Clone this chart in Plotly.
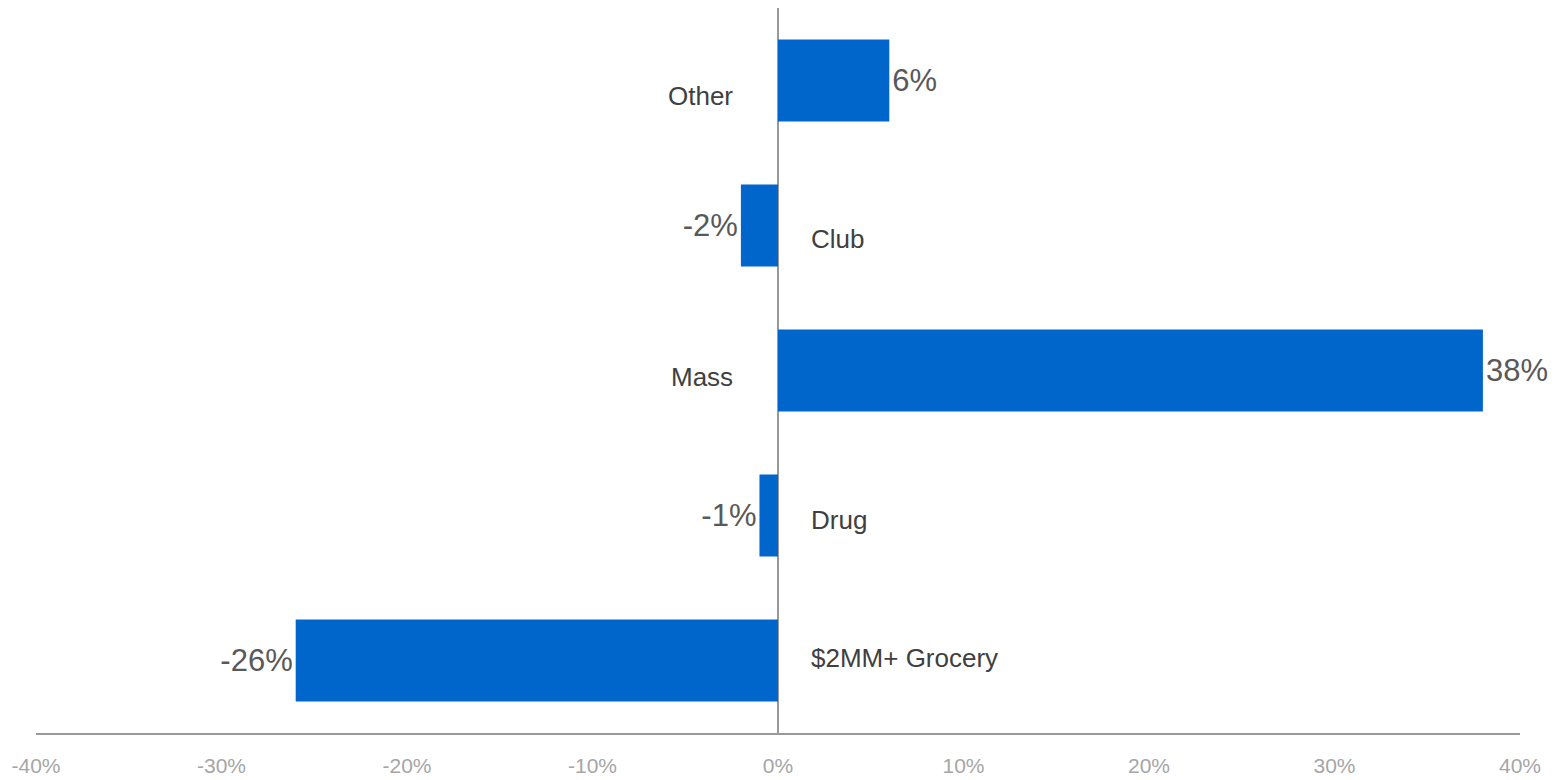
import plotly.graph_objects as go

categories = ["$2MM+ Grocery", "Drug", "Mass", "Club", "Other"]
values = [-26, -1, 38, -2, 6]
value_labels = ["-26%", "-1%", "38%", "-2%", "6%"]
tick_vals = [-40, -30, -20, -10, 0, 10, 20, 30, 40]
tick_text = ["-40%", "-30%", "-20%", "-10%", "0%", "10%", "20%", "30%", "40%"]

fig = go.Figure()
fig.add_trace(go.Bar(
    y=categories, x=values, orientation="h",
    marker=dict(color="#0066CC", line=dict(width=0)),
    width=0.565,
    text=value_labels, textposition="outside",
    textfont=dict(family="Liberation Sans, Arial", size=31, color="#595959"),
    cliponaxis=False, hoverinfo="skip",
))

label_yshift = [-3, 4, 6, 13, 15]
for cat, v, ys in zip(categories, values, label_yshift):
    if v >= 0:
        fig.add_annotation(x=0, y=cat, text=cat, showarrow=False, xanchor="right",
                           xshift=-43, yshift=-ys,
                           font=dict(family="Liberation Sans, Arial", size=26, color="#404040"))
    else:
        fig.add_annotation(x=0, y=cat, text=cat, showarrow=False, xanchor="left",
                           xshift=31, yshift=-ys,
                           font=dict(family="Liberation Sans, Arial", size=26, color="#404040"))

fig.update_layout(
    width=1563, height=780,
    margin=dict(l=36, r=43, t=8, b=47, autoexpand=False),
    plot_bgcolor="white", paper_bgcolor="white",
    showlegend=False,
    xaxis=dict(range=[-40, 40], tickvals=tick_vals, ticktext=tick_text,
               showgrid=False, zeroline=True, zerolinecolor="#999999", zerolinewidth=1.5,
               showline=True, linecolor="#999999", linewidth=1.5,
               ticks="outside", ticklen=13, tickcolor="rgba(0,0,0,0)",
               tickfont=dict(family="Liberation Sans, Arial", size=21, color="#a6a6a6"),
               automargin=False, fixedrange=True),
    yaxis=dict(categoryorder="array", categoryarray=categories, range=[-0.5, 4.5],
               showticklabels=False, showgrid=False, zeroline=False, showline=False,
               automargin=False, fixedrange=True),
)

fig.write_html("out.html")
